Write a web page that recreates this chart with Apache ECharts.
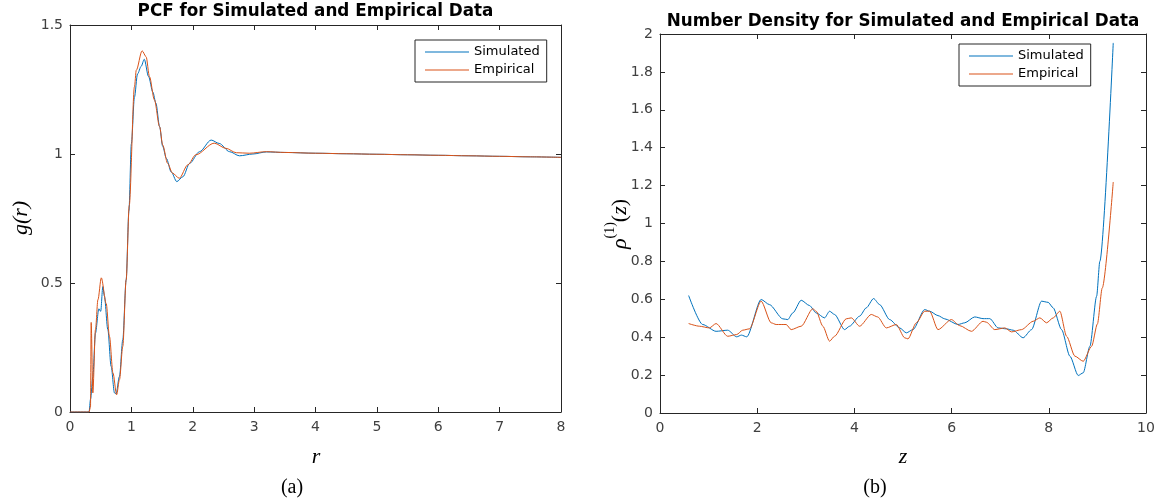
<!DOCTYPE html>
<html>
<head>
<meta charset="utf-8">
<script src="https://cdn.jsdelivr.net/npm/echarts@6/dist/echarts.min.js"></script>
<style>
html,body{margin:0;padding:0;background:#fff;}
#c{width:1163px;height:500px;}
</style>
</head>
<body>
<div id="c"></div>
<script>
// ---- Left panel: PCF g(r) ----
const rSim = [0, 0.31, 0.335, 0.372, 0.415, 0.47, 0.50, 0.535, 0.56, 0.616, 0.67, 0.725, 0.75, 0.806, 0.86, 0.915, 0.96, 1.0, 1.05, 1.10, 1.16, 1.21, 1.28, 1.35, 1.40, 1.46, 1.51, 1.57, 1.65, 1.74, 1.84, 1.95, 2.11, 2.30, 2.43, 2.60, 2.76, 2.98, 3.2, 3.5, 4, 4.5, 5, 5.5, 6, 6.5, 7, 7.5, 8];
const gSim = [0, 0, 0.05, 0.138, 0.306, 0.40, 0.39, 0.486, 0.45, 0.32, 0.177, 0.074, 0.07, 0.138, 0.28, 0.512, 0.78, 1.04, 1.22, 1.31, 1.34, 1.367, 1.30, 1.24, 1.197, 1.106, 1.03, 0.983, 0.93, 0.893, 0.912, 0.964, 1.009, 1.054, 1.041, 1.009, 0.993, 1.0, 1.008, 1.006, 1.003, 1.001, 0.999, 0.997, 0.995, 0.993, 0.991, 0.989, 0.987];
const rEmp = [0, 0.31, 0.334, 0.345, 0.372, 0.415, 0.455, 0.51, 0.59, 0.643, 0.70, 0.76, 0.806, 0.86, 0.915, 0.965, 1.05, 1.08, 1.175, 1.24, 1.295, 1.375, 1.46, 1.51, 1.59, 1.67, 1.78, 1.92, 2.05, 2.35, 2.54, 2.71, 2.92, 3.2, 3.5, 4, 4.5, 5, 5.5, 6, 6.5, 7, 7.5, 8];
const gEmp = [0, 0, 0.02, 0.347, 0.074, 0.32, 0.435, 0.52, 0.42, 0.293, 0.151, 0.067, 0.125, 0.254, 0.512, 0.80, 1.26, 1.325, 1.40, 1.377, 1.30, 1.21, 1.106, 1.035, 0.964, 0.926, 0.906, 0.958, 0.997, 1.042, 1.022, 1.005, 1.003, 1.009, 1.006, 1.003, 1.001, 0.999, 0.997, 0.995, 0.993, 0.991, 0.989, 0.987];

// ---- Right panel: number density rho(z) ----
const zSim = [0.589, 0.878, 1.154, 1.393, 1.578, 1.675, 1.785, 2.081, 2.252, 2.526, 2.629, 2.732, 2.905, 3.076, 3.214, 3.386, 3.489, 3.592, 3.798, 3.901, 4.107, 4.245, 4.395, 4.519, 4.725, 4.931, 5.069, 5.205, 5.446, 5.549, 5.720, 5.858, 6.132, 6.270, 6.476, 6.647, 6.786, 6.957, 7.130, 7.266, 7.472, 7.645, 7.851, 7.987, 8.090, 8.263, 8.434, 8.605, 8.708, 8.846, 8.984, 9.05, 9.326];
const dSim = [0.620, 0.467, 0.431, 0.437, 0.402, 0.411, 0.402, 0.599, 0.572, 0.497, 0.493, 0.528, 0.595, 0.567, 0.528, 0.502, 0.537, 0.520, 0.440, 0.458, 0.511, 0.555, 0.604, 0.572, 0.493, 0.449, 0.423, 0.440, 0.546, 0.537, 0.514, 0.497, 0.467, 0.476, 0.507, 0.498, 0.498, 0.449, 0.444, 0.437, 0.397, 0.440, 0.590, 0.584, 0.555, 0.440, 0.300, 0.198, 0.212, 0.352, 0.616, 0.80, 1.953];
const zEmp = [0.589, 0.810, 1.016, 1.154, 1.393, 1.578, 1.702, 1.840, 2.081, 2.287, 2.390, 2.596, 2.699, 2.905, 3.144, 3.214, 3.351, 3.489, 3.592, 3.833, 3.936, 4.107, 4.348, 4.478, 4.657, 4.863, 5.034, 5.102, 5.275, 5.446, 5.549, 5.720, 5.996, 6.167, 6.408, 6.647, 6.717, 6.888, 7.095, 7.233, 7.439, 7.678, 7.816, 7.954, 8.090, 8.228, 8.366, 8.537, 8.708, 8.881, 9.0, 9.1, 9.326];
const dEmp = [0.472, 0.458, 0.449, 0.472, 0.405, 0.414, 0.437, 0.444, 0.590, 0.476, 0.467, 0.467, 0.440, 0.458, 0.550, 0.537, 0.458, 0.379, 0.405, 0.497, 0.502, 0.458, 0.520, 0.507, 0.449, 0.467, 0.397, 0.391, 0.476, 0.537, 0.537, 0.440, 0.493, 0.461, 0.431, 0.484, 0.479, 0.440, 0.449, 0.428, 0.440, 0.484, 0.502, 0.476, 0.502, 0.537, 0.405, 0.300, 0.273, 0.352, 0.47, 0.66, 1.219];

const seriesNames = ['Simulated', 'Empirical'];
const colors = ['#0072BD', '#D95319'];

const pairs = (xs, ys) => xs.map((x, i) => [x, ys[i]]);

const AX = '#262626';
const LBL = '#404040';
const sans = 'DejaVu Sans';

function bottomX(grid, min, max, interval) {
  return {type: 'value', gridIndex: grid, position: 'bottom', min, max, interval,
    axisLine: {show: true, onZero: false, lineStyle: {color: AX, width: 1}},
    axisTick: {show: true, inside: true, length: 5, lineStyle: {color: AX}},
    axisLabel: {show: true, color: LBL, fontSize: 14, fontFamily: sans, margin: 8},
    splitLine: {show: false}};
}
function topX(grid, min, max, interval) {
  return {type: 'value', gridIndex: grid, position: 'top', min, max, interval,
    axisLine: {show: true, onZero: false, lineStyle: {color: AX, width: 1}},
    axisTick: {show: true, inside: true, length: 5, lineStyle: {color: AX}},
    axisLabel: {show: false}, splitLine: {show: false}};
}
function leftY(grid, min, max, interval) {
  return {type: 'value', gridIndex: grid, position: 'left', min, max, interval,
    axisLine: {show: true, onZero: false, lineStyle: {color: AX, width: 1}},
    axisTick: {show: true, inside: true, length: 5, lineStyle: {color: AX}},
    axisLabel: {show: true, color: LBL, fontSize: 14, fontFamily: sans, margin: 7},
    splitLine: {show: false}};
}
function rightY(grid, min, max, interval) {
  return {type: 'value', gridIndex: grid, position: 'right', min, max, interval,
    axisLine: {show: true, onZero: false, lineStyle: {color: AX, width: 1}},
    axisTick: {show: true, inside: true, length: 5, lineStyle: {color: AX}},
    axisLabel: {show: false}, splitLine: {show: false}};
}

function legendAt(left, top) {
  return {data: seriesNames, orient: 'vertical', left, top,
    backgroundColor: '#fff', borderColor: AX, borderWidth: 1,
    padding: [4, 7, 4, 10], itemGap: 2, itemWidth: 44, itemHeight: 1.2,
    icon: 'rect',
    textStyle: {fontSize: 13, fontFamily: sans, color: '#000', lineHeight: 16},
    selectedMode: false};
}

function txt(text, x, y, font, rotation) {
  return {type: 'text', x, y, rotation: rotation || 0,
    style: {text, font, fill: '#000', align: 'center', verticalAlign: 'middle'}};
}

const serif = 'Liberation Serif';
const chart = echarts.init(document.getElementById('c'), null, {renderer: 'canvas'});
chart.setOption({
  backgroundColor: '#fff',
  animation: false,
  grid: [
    {left: 70, top: 25, width: 491, height: 387},
    {left: 660, top: 34, width: 486, height: 379}
  ],
  xAxis: [bottomX(0, 0, 8, 1), topX(0, 0, 8, 1), bottomX(1, 0, 10, 2), topX(1, 0, 10, 2)],
  yAxis: [leftY(0, 0, 1.5, 0.5), rightY(0, 0, 1.5, 0.5), leftY(1, 0, 2, 0.2), rightY(1, 0, 2, 0.2)],
  legend: [legendAt(415, 40), legendAt(959, 44)],
  series: [
    {name: seriesNames[0], type: 'line', xAxisIndex: 0, yAxisIndex: 0, data: pairs(rSim, gSim), symbol: 'none', smooth: 0.3, smoothMonotone: 'x', lineStyle: {width: 1, color: colors[0]}, itemStyle: {color: colors[0]}, z: 3},
    {name: seriesNames[1], type: 'line', xAxisIndex: 0, yAxisIndex: 0, data: pairs(rEmp, gEmp), symbol: 'none', smooth: 0.3, smoothMonotone: 'x', lineStyle: {width: 1, color: colors[1]}, itemStyle: {color: colors[1]}, z: 4},
    {name: seriesNames[0], type: 'line', xAxisIndex: 2, yAxisIndex: 2, data: pairs(zSim, dSim), symbol: 'none', smooth: 0.25, smoothMonotone: 'x', lineStyle: {width: 1, color: colors[0]}, itemStyle: {color: colors[0]}, z: 3},
    {name: seriesNames[1], type: 'line', xAxisIndex: 2, yAxisIndex: 2, data: pairs(zEmp, dEmp), symbol: 'none', smooth: 0.25, smoothMonotone: 'x', lineStyle: {width: 1, color: colors[1]}, itemStyle: {color: colors[1]}, z: 4}
  ],
  graphic: [
    txt('PCF for Simulated and Empirical Data', 315.5, 12, 'bold 16.8px "DejaVu Sans"'),
    txt('Number Density for Simulated and Empirical Data', 903, 21.5, 'bold 16.8px "DejaVu Sans"'),
    txt('r', 316, 457, 'italic 22px "Liberation Serif"'),
    txt('z', 903, 457, 'italic 22px "Liberation Serif"'),
    txt('g(r)', 21, 218, 'italic 22px "Liberation Serif"', Math.PI / 2),
    {type: 'text', x: 617, y: 224, rotation: Math.PI / 2,
      style: {
        text: '{rho|\u03C1}{sup|(1)}{p|(}{z|z}{p|)}',
        align: 'center', verticalAlign: 'middle', fill: '#000',
        rich: {
          rho: {fontFamily: serif, fontStyle: 'italic', fontSize: 22, lineHeight: 28, verticalAlign: 'bottom'},
          sup: {fontFamily: serif, fontSize: 14, lineHeight: 28, verticalAlign: 'top'},
          p: {fontFamily: serif, fontSize: 22, lineHeight: 28, verticalAlign: 'bottom'},
          z: {fontFamily: serif, fontStyle: 'italic', fontSize: 22, lineHeight: 28, verticalAlign: 'bottom'}
        }
      }},
    txt('(a)', 292, 488, '20px "Liberation Serif"'),
    txt('(b)', 875, 488, '20px "Liberation Serif"')
  ]
});
</script>
</body>
</html>
